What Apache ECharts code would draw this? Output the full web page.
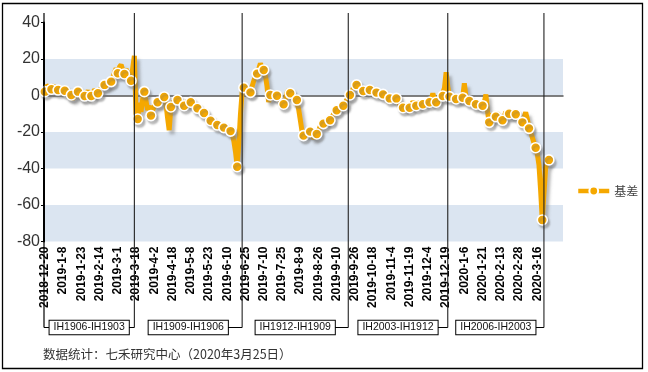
<!DOCTYPE html>
<html><head><meta charset="utf-8">
<script src="https://cdn.jsdelivr.net/npm/echarts@6/dist/echarts.min.js"></script>
<style>html,body{margin:0;padding:0;background:#fff}#c{width:648px;height:372px}</style>
</head><body><div id="c"></div>
<script>
// Trading dates (category axis)
const dates = [
'2018-12-20','2018-12-21','2018-12-24','2018-12-25','2018-12-26','2018-12-27','2018-12-28',
'2019-1-2','2019-1-3','2019-1-4','2019-1-7','2019-1-8','2019-1-9','2019-1-10','2019-1-11','2019-1-14','2019-1-15','2019-1-16','2019-1-17','2019-1-18','2019-1-21','2019-1-22','2019-1-23','2019-1-24','2019-1-25','2019-1-28','2019-1-29','2019-1-30','2019-1-31',
'2019-2-1','2019-2-11','2019-2-12','2019-2-13','2019-2-14','2019-2-15','2019-2-18','2019-2-19','2019-2-20','2019-2-21','2019-2-22','2019-2-25','2019-2-26','2019-2-27','2019-2-28',
'2019-3-1','2019-3-4','2019-3-5','2019-3-6','2019-3-7','2019-3-8','2019-3-11','2019-3-12','2019-3-13','2019-3-14','2019-3-15','2019-3-18','2019-3-19','2019-3-20','2019-3-21','2019-3-22','2019-3-25','2019-3-26','2019-3-27','2019-3-28','2019-3-29',
'2019-4-1','2019-4-2','2019-4-3','2019-4-4','2019-4-8','2019-4-9','2019-4-10','2019-4-11','2019-4-12','2019-4-15','2019-4-16','2019-4-17','2019-4-18','2019-4-19','2019-4-22','2019-4-23','2019-4-24','2019-4-25','2019-4-26','2019-4-29','2019-4-30',
'2019-5-6','2019-5-7','2019-5-8','2019-5-9','2019-5-10','2019-5-13','2019-5-14','2019-5-15','2019-5-16','2019-5-17','2019-5-20','2019-5-21','2019-5-22','2019-5-23','2019-5-24','2019-5-27','2019-5-28','2019-5-29','2019-5-30','2019-5-31',
'2019-6-3','2019-6-4','2019-6-5','2019-6-6','2019-6-10','2019-6-11','2019-6-12','2019-6-13','2019-6-14','2019-6-17','2019-6-18','2019-6-19','2019-6-20','2019-6-21','2019-6-24','2019-6-25','2019-6-26','2019-6-27','2019-6-28',
'2019-7-1','2019-7-2','2019-7-3','2019-7-4','2019-7-5','2019-7-8','2019-7-9','2019-7-10','2019-7-11','2019-7-12','2019-7-15','2019-7-16','2019-7-17','2019-7-18','2019-7-19','2019-7-22','2019-7-23','2019-7-24','2019-7-25','2019-7-26','2019-7-29','2019-7-30','2019-7-31',
'2019-8-1','2019-8-2','2019-8-5','2019-8-6','2019-8-7','2019-8-8','2019-8-9','2019-8-12','2019-8-13','2019-8-14','2019-8-15','2019-8-16','2019-8-19','2019-8-20','2019-8-21','2019-8-22','2019-8-23','2019-8-26','2019-8-27','2019-8-28','2019-8-29','2019-8-30',
'2019-9-2','2019-9-3','2019-9-4','2019-9-5','2019-9-6','2019-9-9','2019-9-10','2019-9-11','2019-9-12','2019-9-16','2019-9-17','2019-9-18','2019-9-19','2019-9-20','2019-9-23','2019-9-24','2019-9-25','2019-9-26','2019-9-27','2019-9-30',
'2019-10-8','2019-10-9','2019-10-10','2019-10-11','2019-10-14','2019-10-15','2019-10-16','2019-10-17','2019-10-18','2019-10-21','2019-10-22','2019-10-23','2019-10-24','2019-10-25','2019-10-28','2019-10-29','2019-10-30','2019-10-31',
'2019-11-1','2019-11-4','2019-11-5','2019-11-6','2019-11-7','2019-11-8','2019-11-11','2019-11-12','2019-11-13','2019-11-14','2019-11-15','2019-11-18','2019-11-19','2019-11-20','2019-11-21','2019-11-22','2019-11-25','2019-11-26','2019-11-27','2019-11-28','2019-11-29',
'2019-12-2','2019-12-3','2019-12-4','2019-12-5','2019-12-6','2019-12-9','2019-12-10','2019-12-11','2019-12-12','2019-12-13','2019-12-16','2019-12-17','2019-12-18','2019-12-19','2019-12-20','2019-12-23','2019-12-24','2019-12-25','2019-12-26','2019-12-27','2019-12-30','2019-12-31',
'2020-1-2','2020-1-3','2020-1-6','2020-1-7','2020-1-8','2020-1-9','2020-1-10','2020-1-13','2020-1-14','2020-1-15','2020-1-16','2020-1-17','2020-1-20','2020-1-21','2020-1-22','2020-1-23',
'2020-2-3','2020-2-4','2020-2-5','2020-2-6','2020-2-7','2020-2-10','2020-2-11','2020-2-12','2020-2-13','2020-2-14','2020-2-17','2020-2-18','2020-2-19','2020-2-20','2020-2-21','2020-2-24','2020-2-25','2020-2-26','2020-2-27','2020-2-28',
'2020-3-2','2020-3-3','2020-3-4','2020-3-5','2020-3-6','2020-3-9','2020-3-10','2020-3-11','2020-3-12','2020-3-13','2020-3-16','2020-3-17','2020-3-18','2020-3-19','2020-3-20','2020-3-23','2020-3-24','2020-3-25'
];
// 基差 values, one per trading date
const basis = [
2.1,5.5,4.8,4.2,3.4,5.2,4.6,3.8,3.0,4.1,
3.2,2.9,2.6,1.5,0.8,-0.5,0.3,-1.8,-2.5,0.5,
2.1,0.8,-1.2,-2.0,-0.3,1.2,2.5,1.0,-0.3,1.5,
3.2,2.4,1.2,3.0,4.1,5.0,5.8,6.5,5.2,6.9,
7.6,9.8,12.5,14.8,12.2,15.6,16.8,13.9,11.8,14.5,
12.0,10.2,8.1,15.0,21.8,
-10,-12.9,-4,-9,-2,2.1,-3,-8,-5.5,-11,
-8,-6,-4.5,-3.7,-5,-3,-1.5,-0.8,-4,-12,
-19,-6.3,-4,-3,-2,-2.5,-4,-3.5,-5,-5.6,
-4.5,-3,-4,-3.7,-5,-5.5,-6.5,-7,-8,-8.5,
-9,-9.6,-11,-12,-12.5,-13.8,-14.5,-15.5,-16,-16.2,
-16,-17,-17.5,-17.6,-16.5,-18,-19,-19.5,-21,-25,
-31,-39,-26,-10,2,
4.3,3,1.5,2.5,1.7,5,8,10.5,12,14.5,
17.5,15.5,14,11,5,-3.5,0.3,1,-1,0.5,
-0.1,-1.5,-3,-4,-4.8,-2.5,1.5,3,1.2,-0.5,
0.5,-1.5,-2.5,-7,-13,-19,-22,-21,-19.5,-20.5,
-19.8,-21.5,-23.5,-22.5,-21.1,-19.5,-17,-16,-15.4,-15,
-14,-13.5,-13.6,-12,-10.5,-9,-8.1,-7.5,-6,-6.5,
-5.6,-4,-2.5,-1,
0.3,2,4,5.5,5.8,4.5,3.5,3,2.5,3.5,
4,3.2,3.0,2,1.5,2,1.6,1,0.5,1,
0.6,-0.5,-1,-1.5,-1.6,-1,-2,-1.5,-1.6,-3,
-5,-6,-6.7,-5.5,-4.5,-6,-6.7,-5,-3.5,-4.5,
-5.6,-4,-3,-4,-4.8,-3.5,-2.5,-3,-3.7,-2.5,
1.2,-2,-3.7,-2.5,-1.5,-1,-0.3,4,12.7,5,
-0.6,-1.5,-1,-2,-1.9,-1.5,-2.5,-1.5,-1.2,6.7,
-1,-2.5,-3.0,-3.5,-4,-4.5,-4.8,-5.5,-6,-5,
-5.6,-4,0.6,-9,-14.7,-13,-10,-12,-11.6,-9.5,
-12.5,-13,-13.6,-11.5,-9,-10.5,-10,-11,-9.5,-11.5,
-10.3,-11,-13,-14,-14.7,-12,-9.2,-13,-18,-20,
-23,-26,-28.6,-32,-38,-52,-68.2,-54,-40,-37,-35.3
];
const seriesName = '基差';
const rollDates = ['2019-3-15','2019-6-21','2019-9-20','2019-12-20','2020-3-20'];
const spreadNames = ['IH1906-IH1903','IH1909-IH1906','IH1912-IH1909','IH2003-IH1912','IH2006-IH2003'];
const sourceNote = '数据统计：七禾研究中心（2020年3月25日）';
const padCats = ['p1','p2','p3','p4','p5','p6','p7','p8'];

const FONT = "'Liberation Sans', Arial, 'Noto Sans CJK SC', sans-serif";
const CJK = "'Noto Sans CJK SC', 'Liberation Sans', sans-serif";
const ORANGE = '#f5a800';
const gridLeft = 44, gridRight = 85, gridTop = 22.5, gridBottom = 130.5;

const categories = dates.concat(padCats);
const nReal = dates.length;
const seriesData = basis.map((v, i) => i % 4 === 0 ? v : { value: v, symbol: 'none' });

const chart = echarts.init(document.getElementById('c'), null, { renderer: 'canvas' });
chart.setOption({
  animation: false,
  backgroundColor: '#fff',
  textStyle: { fontFamily: FONT },
  grid: { left: gridLeft, right: gridRight, top: gridTop, bottom: gridBottom, containLabel: false },
  legend: {
    left: 571, top: 180, itemWidth: 31, itemHeight: 11, itemGap: 6,
    lineStyle: { width: 4.5, color: ORANGE },
    textStyle: { fontSize: 12, color: '#404040', fontFamily: CJK },
    data: [seriesName]
  },
  xAxis: [{
    type: 'category', data: categories, boundaryGap: true,
    axisLine: { show: false, onZero: false }, axisTick: { show: false },
    splitLine: { show: false },
    axisLabel: {
      rotate: 90, fontSize: 12, color: '#000', margin: 5, fontFamily: FONT, fontWeight: 'bold',
      interval: (idx) => idx % 11 === 0 && idx < nReal
    }
  }, {
    type: 'category', data: categories, boundaryGap: true, position: 'bottom',
    axisLine: { show: true, onZero: true, lineStyle: { color: '#555', width: 1.5 } },
    axisTick: { show: false }, axisLabel: { show: false }, splitLine: { show: false }
  }],
  yAxis: {
    type: 'value', min: -80, max: 40, interval: 20,
    axisLine: { show: true, lineStyle: { color: '#000', width: 2 } },
    axisTick: { show: true, length: 3, lineStyle: { color: '#000' } },
    axisLabel: { fontSize: 16, color: '#333', margin: 4, fontFamily: FONT },
    splitLine: { show: false },
    splitArea: { show: true, areaStyle: { color: ['#dbe5f1', '#ffffff'] } }
  },
  series: [{
    name: seriesName, type: 'line', data: seriesData, xAxisIndex: 0,
    symbol: 'circle', symbolSize: 10, showSymbol: true, showAllSymbol: true,
    lineStyle: { color: ORANGE, width: 5, shadowColor: 'rgba(120,120,120,0.5)', shadowBlur: 3, shadowOffsetX: 3, shadowOffsetY: 4 },
    itemStyle: { color: ORANGE, borderColor: '#fff', borderWidth: 1.6, shadowColor: 'rgba(120,120,120,0.45)', shadowBlur: 2, shadowOffsetX: 2, shadowOffsetY: 3 },
    z: 3
  }]
});

// Annotation brackets derived from axis positions
const yTop = 13, yBox = 327.5;
const rollX = rollDates.map(d => chart.convertToPixel({ xAxisIndex: 0 }, d));
const bounds = [gridLeft].concat(rollX);
const g = [];
g.push({ type: 'rect', shape: { x: 2.5, y: 3.5, width: 640, height: 365 }, style: { fill: 'none', stroke: '#000', lineWidth: 1.3 }, z: 100 });
g.push({ type: 'line', shape: { x1: gridLeft, y1: yTop, x2: gridLeft, y2: yBox }, style: { stroke: '#000', lineWidth: 1.2 }, z: 50 });
rollX.forEach(x => {
  g.push({ type: 'line', shape: { x1: x, y1: yTop, x2: x, y2: yBox }, style: { stroke: '#222', lineWidth: 1.1 }, z: 50 });
});
spreadNames.forEach((name, k) => {
  const cx = (bounds[k] + bounds[k + 1]) / 2;
  const x1 = k === 0 ? bounds[0] : cx;
  g.push({ type: 'line', shape: { x1: x1, y1: yBox, x2: bounds[k + 1], y2: yBox }, style: { stroke: '#000', lineWidth: 1.1 }, z: 50 });
  g.push({ type: 'text', x: cx, y: yBox, z: 60, style: {
    text: name, fill: '#111', font: '10.5px ' + FONT, align: 'center', verticalAlign: 'middle',
    backgroundColor: '#fff', borderColor: '#000', borderWidth: 1, padding: [2, 4, 1, 4]
  }});
});
g.push({ type: 'text', x: 43, y: 354, z: 60, style: { text: sourceNote, fill: '#333', font: '12.5px ' + CJK, align: 'left', verticalAlign: 'middle' } });
chart.setOption({ graphic: g });
</script>
</body></html>
